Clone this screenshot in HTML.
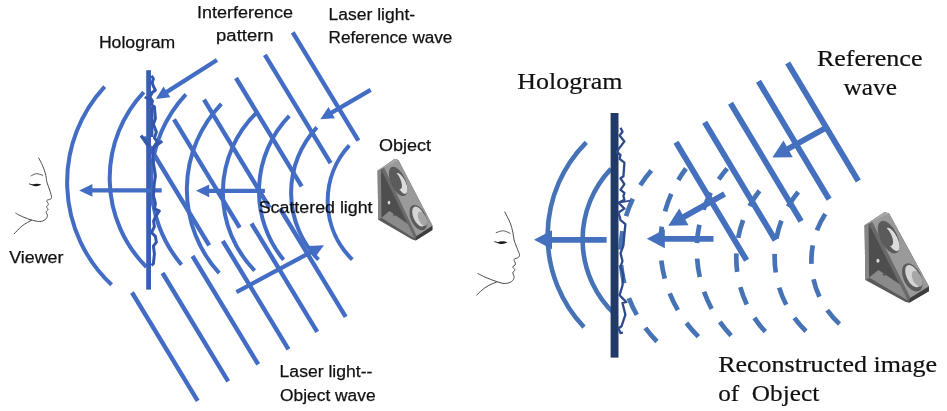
<!DOCTYPE html>
<html><head><meta charset="utf-8"><title>Holography</title>
<style>html,body{margin:0;padding:0;background:#fff;}body{width:947px;height:411px;overflow:hidden;font-family:"Liberation Sans",sans-serif;}</style>
</head><body>
<svg width="947" height="411" viewBox="0 0 947 411" style="display:block;will-change:transform;filter:blur(0.45px)">
<rect width="947" height="411" fill="#ffffff"/>
<g fill="none" stroke="#436dc5" stroke-width="4.0">
<path d="M104.7,86.6 A140.5,140.5 0 0 0 111.6,284.8"/>
<path d="M143.8,92.2 A125.6,125.6 0 0 0 146.4,267.0"/>
<path d="M185.9,94.3 A128.0,128.0 0 0 0 181.5,264.7"/>
<path d="M221.4,103.8 A124.0,124.0 0 0 0 219.2,273.2"/>
<path d="M256.5,112.7 A111.7,111.7 0 0 0 254.6,270.6"/>
<path d="M289.3,115.9 A108.3,108.3 0 0 0 283.6,259.8"/>
<path d="M316.9,127.4 A95.6,95.6 0 0 0 318.5,259.7"/>
<path d="M349.3,145.3 A82.3,82.3 0 0 0 352.3,259.6"/>
</g>
<g stroke="#436dc5" stroke-width="4.4">
<line x1="143.5" y1="137" x2="209.2" y2="245.3"/>
<line x1="174" y1="119.3" x2="239.7" y2="227.6"/>
<line x1="204" y1="99.6" x2="269.7" y2="207.9"/>
<line x1="236" y1="78" x2="301.7" y2="186.3"/>
<line x1="264.9" y1="54.8" x2="330.6" y2="163.1"/>
<line x1="292.7" y1="32.4" x2="358.4" y2="140.7"/>
<line x1="132" y1="292.5" x2="197.7" y2="400.8"/>
<line x1="162.5" y1="273" x2="228.2" y2="381.3"/>
<line x1="192.5" y1="256" x2="258.2" y2="364.3"/>
<line x1="222.8" y1="241" x2="288.5" y2="349.3"/>
<line x1="251.5" y1="223.5" x2="317.2" y2="331.8"/>
<line x1="280" y1="208.5" x2="345.7" y2="316.8"/>
</g>
<rect x="146.2" y="70.2" width="4.8" height="219.4" fill="#385eb6"/>
<line x1="161.7" y1="190.4" x2="91.4" y2="190.4" stroke="#436dc5" stroke-width="4.3"/><polygon points="79.2,190.4 92.4,184.0 92.4,196.8" fill="#436dc5"/>
<line x1="264.9" y1="190.8" x2="208.2" y2="190.8" stroke="#436dc5" stroke-width="4.3"/><polygon points="196.0,190.8 209.2,184.4 209.2,197.2" fill="#436dc5"/>
<line x1="217.0" y1="60.0" x2="166.1" y2="92.4" stroke="#436dc5" stroke-width="4.3"/><polygon points="155.8,99.0 163.5,86.5 170.4,97.3" fill="#436dc5"/>
<line x1="370.7" y1="89.9" x2="330.8" y2="113.2" stroke="#436dc5" stroke-width="4.3"/><polygon points="320.3,119.3 328.5,107.1 334.9,118.2" fill="#436dc5"/>
<line x1="236.4" y1="292.1" x2="312.5" y2="251.3" stroke="#436dc5" stroke-width="4.3"/><polygon points="324.0,245.2 314.8,257.6 308.5,246.0" fill="#436dc5"/>
<g fill="none" stroke="#4673b5" stroke-width="4.6">
<path d="M586.3,142.3 A132.6,132.6 0 0 0 584.0,327.1"/>
<path d="M611.0,168.8 A102.4,102.4 0 0 0 615.1,314.4"/>
</g>
<g fill="none" stroke="#4673b5" stroke-width="4.7" stroke-dasharray="18.5 15.5">
<path d="M651.3,170.5 A125.9,125.9 0 0 0 656.9,341.5" stroke-dashoffset="0"/>
<path d="M686.0,168.5 A128.6,128.6 0 0 0 698.4,336.7" stroke-dashoffset="4.5"/>
<path d="M727.2,168.5 A124.2,124.2 0 0 0 731.1,335.6" stroke-dashoffset="4.6"/>
<path d="M759.5,190.8 A108.5,108.5 0 0 0 765.3,331.7" stroke-dashoffset="0.3"/>
<path d="M798.2,192.0 A102.5,102.5 0 0 0 806.0,331.2" stroke-dashoffset="0.6"/>
<path d="M825.7,213.3 A85.4,85.4 0 0 0 839.6,324.0" stroke-dashoffset="-0.8"/>
</g>
<g stroke="#4470be" stroke-width="5.8">
<line x1="676" y1="142.3" x2="746.6" y2="260.3"/>
<line x1="704.7" y1="122.2" x2="775.3" y2="240.2"/>
<line x1="730.5" y1="103.2" x2="801.1" y2="221.2"/>
<line x1="758.5" y1="81.3" x2="829.1" y2="199.3"/>
<line x1="787.7" y1="63" x2="858.3" y2="181.0"/>
</g>
<rect x="610.6" y="113" width="7.9" height="244.6" fill="#223a67"/>
<line x1="606.6" y1="239.8" x2="551.0" y2="239.8" stroke="#4470be" stroke-width="5.8"/><polygon points="534.0,239.8 552.0,230.3 552.0,249.3" fill="#4470be"/>
<line x1="713.5" y1="238.8" x2="663.8" y2="238.8" stroke="#4470be" stroke-width="5.8"/><polygon points="646.8,238.8 664.8,229.3 664.8,248.3" fill="#4470be"/>
<line x1="724.6" y1="194.0" x2="683.0" y2="217.4" stroke="#4470be" stroke-width="5.8"/><polygon points="668.2,225.7 679.2,208.6 688.5,225.2" fill="#4470be"/>
<line x1="826.5" y1="127.5" x2="787.3" y2="149.3" stroke="#4470be" stroke-width="5.8"/><polygon points="772.4,157.6 783.5,140.5 792.7,157.2" fill="#4470be"/>
<text x="98.9" y="48.2" font-family="'Liberation Sans', sans-serif" font-size="17.3" fill="#111" stroke="#111" stroke-width="0.25" textLength="76.4" lengthAdjust="spacingAndGlyphs">Hologram</text>
<text x="197.1" y="18.2" font-family="'Liberation Sans', sans-serif" font-size="17.3" fill="#111" stroke="#111" stroke-width="0.25" textLength="96" lengthAdjust="spacingAndGlyphs">Interference</text>
<text x="216.1" y="41" font-family="'Liberation Sans', sans-serif" font-size="17.3" fill="#111" stroke="#111" stroke-width="0.25" textLength="57.5" lengthAdjust="spacingAndGlyphs">pattern</text>
<text x="328.6" y="19.9" font-family="'Liberation Sans', sans-serif" font-size="17.3" fill="#111" stroke="#111" stroke-width="0.25" textLength="86.5" lengthAdjust="spacingAndGlyphs">Laser light-</text>
<text x="328.6" y="42.6" font-family="'Liberation Sans', sans-serif" font-size="17.3" fill="#111" stroke="#111" stroke-width="0.25" textLength="123.8" lengthAdjust="spacingAndGlyphs">Reference wave</text>
<text x="378.9" y="151.4" font-family="'Liberation Sans', sans-serif" font-size="17.3" fill="#111" stroke="#111" stroke-width="0.25" textLength="52.1" lengthAdjust="spacingAndGlyphs">Object</text>
<text x="258.7" y="212.5" font-family="'Liberation Sans', sans-serif" font-size="17.3" fill="#111" stroke="#111" stroke-width="0.25" textLength="113.9" lengthAdjust="spacingAndGlyphs">Scattered light</text>
<text x="9.3" y="263.2" font-family="'Liberation Sans', sans-serif" font-size="17.3" fill="#111" stroke="#111" stroke-width="0.25" textLength="54.1" lengthAdjust="spacingAndGlyphs">Viewer</text>
<text x="279.6" y="377.3" font-family="'Liberation Sans', sans-serif" font-size="17.3" fill="#111" stroke="#111" stroke-width="0.25" textLength="92.8" lengthAdjust="spacingAndGlyphs">Laser light--</text>
<text x="280.0" y="400.5" font-family="'Liberation Sans', sans-serif" font-size="17.3" fill="#111" stroke="#111" stroke-width="0.25" textLength="95.6" lengthAdjust="spacingAndGlyphs">Object wave</text>
<text x="517.2" y="89.4" font-family="'Liberation Serif', serif" font-size="24" fill="#111" stroke="#111" stroke-width="0.2" textLength="105.3" lengthAdjust="spacingAndGlyphs">Hologram</text>
<text x="816.9" y="65.5" font-family="'Liberation Serif', serif" font-size="24" fill="#111" stroke="#111" stroke-width="0.2" textLength="105.6" lengthAdjust="spacingAndGlyphs">Reference</text>
<text x="843.6" y="95.1" font-family="'Liberation Serif', serif" font-size="24" fill="#111" stroke="#111" stroke-width="0.2" textLength="53.4" lengthAdjust="spacingAndGlyphs">wave</text>
<text x="718.2" y="371.6" font-family="'Liberation Serif', serif" font-size="24" fill="#111" stroke="#111" stroke-width="0.2" textLength="218.8" lengthAdjust="spacingAndGlyphs">Reconstructed image</text>
<text x="718.2" y="400.9" font-family="'Liberation Serif', serif" font-size="24" fill="#111" stroke="#111" stroke-width="0.2" textLength="101" lengthAdjust="spacingAndGlyphs">of&#160; Object</text>
<polyline fill="none" stroke="#3457ad" stroke-width="3.0" stroke-linejoin="round" points="151.5,75.8 153.4,78.7 152.1,82.6 153.4,86.4 155.4,90.3 152.5,92.3 149.8,97.1 152.5,101 151.5,104.9 154.4,106.8 155.4,118.5 153.4,124.3 156.4,132.1 154.4,137.9 157.3,141.8 153,148 152.8,160 154.6,170 155.4,176 154.2,184 153.4,195.5 155.4,203.3 154.6,209 159.3,211 155.4,216.8 153.6,221 154.4,226.7 151.5,232.5 155.4,236.4 156.4,242.2 153.4,246.1 154.4,253.8 153.4,263.5 151.5,265.5"/><polyline fill="none" stroke="#3457ad" stroke-width="2.4" points="152.2,107 152.2,137"/><polyline fill="none" stroke="#3457ad" stroke-width="2.6" points="144.7,97.1 150.5,100"/><polyline fill="none" stroke="#3457ad" stroke-width="3.2" points="141,135.5 149,146.5"/><polyline fill="none" stroke="#3457ad" stroke-width="3.2" points="162.2,141 153.5,147.5"/><polyline fill="none" stroke="#2d4a8c" stroke-width="2.3" stroke-linejoin="round" points="620.5,127.8 622.5,131.7 619.6,135.5 624.4,141.4 618.6,149.1 616.9,152 620.5,155 619.6,158.8 624.4,162.7 623.4,176.3 620.5,178.3 624.4,184.1 620.5,189.9 624.4,192.8 623.4,196 624.4,199.9 618.6,202.8 624.4,208.6 618.6,212.5 620.5,220.2 625.4,224.1 624.4,233.8 623.4,245.5 620.5,253.3 622.5,261 620.5,266.8 623.4,274.6 622.5,285.5 619.6,295.2 623.4,299.1 626.4,302 622.5,303 624.4,310.8 625.4,314.7 621.5,326.3 618.6,328.3 620.5,333.1 623,332.5"/><polyline fill="none" stroke="#2d4a8c" stroke-width="1.6" points="618.6,202.8 630,200.6"/>
<g fill="none" stroke="#4a4a4a" stroke-width="1.0" stroke-linecap="round" stroke-linejoin="round"><path d="M38.6,157.9 C39.3,159.2 41.5,162.9 42.7,165.8 C43.9,168.7 45.2,172.7 45.8,175.3 C46.5,177.9 46.1,179.0 46.8,181.6 C47.5,184.3 49.2,188.6 50.0,191.1 C50.8,193.6 51.4,195.5 51.5,196.8 C51.6,198.1 51.4,198.4 50.6,199.0 C49.8,199.6 47.2,199.7 46.8,200.6 C46.4,201.5 48.4,203.3 48.4,204.4 C48.3,205.4 46.5,206.1 46.5,206.9 C46.4,207.8 48.1,208.6 48.1,209.4 C48.0,210.3 46.3,210.9 46.2,212.0 C46.1,213.0 47.6,214.5 47.4,215.8 C47.3,217.0 46.5,218.6 45.2,219.6 C43.9,220.5 42.1,221.5 39.5,221.5 C37.0,221.5 33.2,220.5 30.0,219.6 C26.9,218.6 22.9,216.8 20.6,215.8 C18.2,214.7 16.6,213.7 15.8,213.2"/><path d="M31.6,220.2 C30.0,221.1 25.0,223.6 22.1,225.9 C19.2,228.2 15.5,232.5 14.2,233.8"/><path d="M31.0,175.9 C31.9,175.6 34.4,173.8 36.4,173.7 C38.3,173.6 41.6,175.0 42.7,175.3" stroke-width="0.9"/></g><path d="M31.6,185.1 Q36.5,182.5 41.4,184.5 Q37.5,187.3 33.6,185.7 Z" fill="#1a1a1a"/><path d="M33.6,185.1 L29.1,183.9" stroke="#1a1a1a" stroke-width="0.9" fill="none"/><g fill="none" stroke="#4a4a4a" stroke-width="1.0" stroke-linecap="round" stroke-linejoin="round"><path d="M504.8,212.0 C505.7,213.8 508.8,219.4 510.1,222.7 C511.5,226.1 512.1,229.2 512.8,232.1 C513.5,235.0 513.3,237.2 514.1,240.1 C514.9,243.0 516.7,247.0 517.6,249.5 C518.5,252.0 519.4,253.5 519.5,254.8 C519.6,256.2 519.1,256.8 518.2,257.5 C517.3,258.3 514.6,258.3 514.1,259.4 C513.7,260.5 515.7,263.0 515.5,264.2 C515.3,265.5 512.9,265.9 512.8,266.9 C512.7,267.9 514.9,269.1 514.9,270.1 C514.9,271.1 512.9,271.5 512.8,272.8 C512.7,274.0 514.4,276.1 514.1,277.6 C513.9,279.1 513.0,280.6 511.5,281.6 C509.9,282.6 507.2,283.5 504.8,283.5 C502.3,283.5 499.9,282.6 496.8,281.6 C493.6,280.6 489.2,278.9 486.1,277.6 C482.9,276.3 479.4,274.2 478.0,273.6"/><path d="M496.8,281.9 C495.0,282.7 489.4,284.8 486.1,287.0 C482.7,289.1 478.2,293.6 476.7,295.0"/><path d="M496.2,232.6 C497.4,232.3 501.1,230.6 503.4,230.8 C505.8,230.9 509.0,233.0 510.1,233.4" stroke-width="0.9"/></g><path d="M496.8,242.8 Q502.1,240.2 507.5,242.3 Q503.1,245.0 498.8,243.4 Z" fill="#1a1a1a"/><path d="M498.8,242.8 L494.3,241.6" stroke="#1a1a1a" stroke-width="0.9" fill="none"/>
<g transform="translate(372,155) scale(0.2237,0.2237)"><polygon points="25,70 100,18 118,22 270,315 270,335 195,382 180,378 28,290" fill="#5a5a5a"/><polygon points="40,85 60,75 190,340 185,368 42,280" fill="#4e4e4e"/><polygon points="42,280 78,250 175,318 188,372" fill="#8a8a8a"/><polygon points="25,70 40,62 42,282 28,290" fill="#858585"/><polygon points="40,62 56,56 205,362 190,372" fill="#6a6a6a"/><polygon points="54,56 100,18 118,22 270,315 200,362" fill="#9a9a9a"/><polygon points="25,70 100,18 118,22 40,64" fill="#a8a8a8"/><polygon points="198,364 270,317 270,335 195,382" fill="#3e3e3e"/><g transform="rotate(-24 117 118)"><ellipse cx="117" cy="118" rx="33" ry="70" fill="#5b5b5b"/><ellipse cx="126" cy="132" rx="20" ry="50" fill="#dcdcdc"/><ellipse cx="113" cy="112" rx="17" ry="42" fill="#5b5b5b"/></g><g transform="rotate(-24 207 280)"><ellipse cx="207" cy="280" rx="34" ry="60" fill="#5b5b5b"/><ellipse cx="211" cy="276" rx="24" ry="48" fill="#d4d4d4"/><ellipse cx="222" cy="292" rx="17" ry="34" fill="#a6a6a6"/></g><ellipse cx="76" cy="213" rx="6" ry="8" fill="#d8d8d8"/><ellipse cx="100" cy="268" rx="6" ry="5" fill="#5a5a5a"/></g>
<g transform="translate(858.0,207.8) scale(0.2624,0.2488)"><polygon points="25,70 100,18 118,22 270,315 270,335 195,382 180,378 28,290" fill="#5a5a5a"/><polygon points="40,85 60,75 190,340 185,368 42,280" fill="#4e4e4e"/><polygon points="42,280 78,250 175,318 188,372" fill="#8a8a8a"/><polygon points="25,70 40,62 42,282 28,290" fill="#858585"/><polygon points="40,62 56,56 205,362 190,372" fill="#6a6a6a"/><polygon points="54,56 100,18 118,22 270,315 200,362" fill="#9a9a9a"/><polygon points="25,70 100,18 118,22 40,64" fill="#a8a8a8"/><polygon points="198,364 270,317 270,335 195,382" fill="#3e3e3e"/><g transform="rotate(-24 117 118)"><ellipse cx="117" cy="118" rx="33" ry="70" fill="#5b5b5b"/><ellipse cx="126" cy="132" rx="20" ry="50" fill="#dcdcdc"/><ellipse cx="113" cy="112" rx="17" ry="42" fill="#5b5b5b"/></g><g transform="rotate(-24 207 280)"><ellipse cx="207" cy="280" rx="34" ry="60" fill="#5b5b5b"/><ellipse cx="211" cy="276" rx="24" ry="48" fill="#d4d4d4"/><ellipse cx="222" cy="292" rx="17" ry="34" fill="#a6a6a6"/></g><ellipse cx="76" cy="213" rx="6" ry="8" fill="#d8d8d8"/><ellipse cx="100" cy="268" rx="6" ry="5" fill="#5a5a5a"/></g>
</svg>
</body></html>
